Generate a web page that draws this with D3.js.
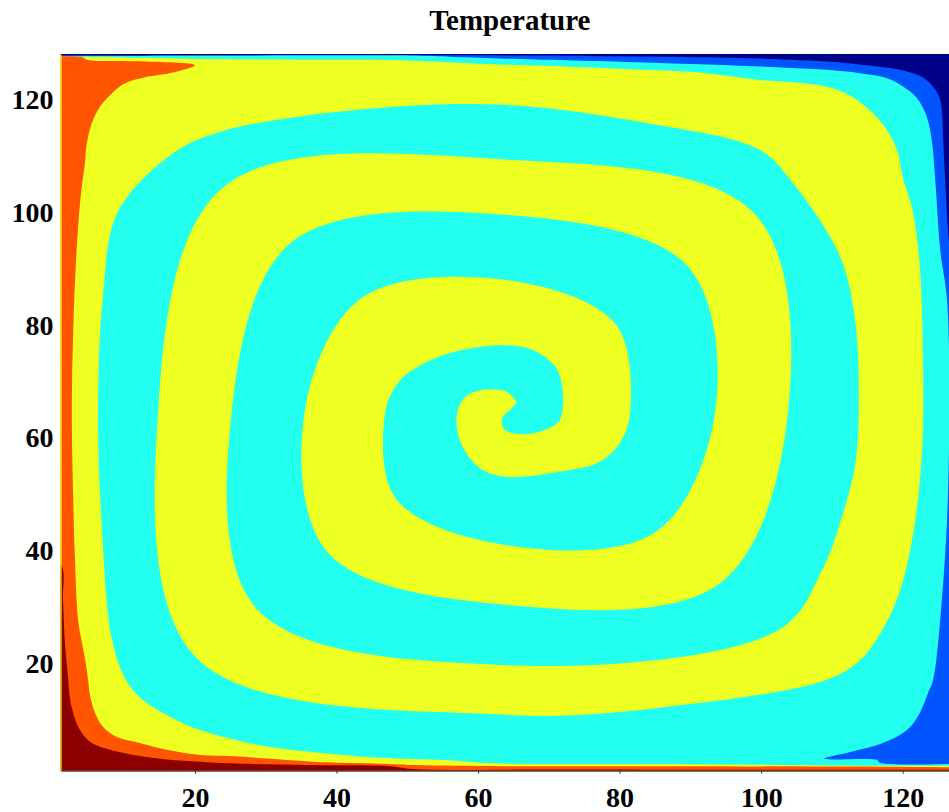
<!DOCTYPE html>
<html>
<head>
<meta charset="utf-8">
<script src="https://cdn.jsdelivr.net/npm/d3@7"></script>
<style>
  html, body { margin: 0; padding: 0; background: #ffffff; }
  svg { display: block; }
</style>
</head>
<body>
<svg id="chart" width="949" height="812"></svg>
<script>
// ---------------- data ----------------
const title = "Temperature";
const xDomain = [1, 128];
const yDomain = [1, 128];
const xTicks = [20, 40, 60, 80, 100, 120];
const yTicks = [20, 40, 60, 80, 100, 120];

// contour levels, hottest to coldest
const levels = ["T6", "T5", "T4", "T3", "T2", "T1"];

// outer edge of the T4 spiral arm, from its tip in the centre outward
const yellowOuter = [
  [65.5, 66.3], [64.9, 67.2], [64.1, 68.1], [60.7, 68.5], [58.2, 67.2], [57.0, 64.0],
  [57.7, 58.7], [60.3, 54.6], [63.8, 53.1], [72.5, 54.2], [77.0, 55.6], [79.9, 58.8],
  [81.5, 64.6], [79.4, 80.2], [63.8, 88.0], [43.6, 84.8], [35.5, 64.6], [38.8, 39.6],
  [63.8, 30.4], [94.2, 34.2], [103.8, 64.6], [99.0, 99.8], [63.8, 109.3], [24.0, 104.4],
  [14.8, 64.6], [20.2, 21.0], [63.8, 10.9], [90.0, 12.8], [109.5, 17.2], [114.0, 20.6],
  [117.2, 26.1], [119.6, 32.8], [121.5, 43.1], [122.7, 56.8], [122.9, 70.2], [122.4, 90.6],
  [121.3, 100.9], [120.1, 105.7], [119.2, 111.0], [117.8, 114.5], [115.8, 117.5], [112.9, 120.4],
  [109.3, 122.2], [104.5, 123.0], [99.8, 123.4], [91.3, 124.7], [81.9, 125.3], [74.0, 125.7],
  [63.8, 126.1], [49.0, 126.9], [34.8, 127.0], [22.5, 127.1], [10.0, 127.4], [1.0, 127.5]
];
// inner edge of the T4 spiral arm, from its tip in the centre outward
const yellowInner = [
  [65.5, 66.3], [64.5, 64.9], [63.5, 63.7], [63.4, 62.3], [63.8, 61.4], [64.9, 60.8],
  [67.8, 60.8], [71.2, 62.6], [72.0, 65.5], [71.2, 72.0], [67.8, 75.5], [63.1, 76.4],
  [56.0, 75.0], [51.4, 72.5], [49.0, 70.2], [46.9, 64.6], [48.4, 49.2], [63.8, 41.0],
  [85.1, 43.3], [93.5, 64.6], [89.6, 90.4], [63.8, 99.5], [33.7, 94.7], [25.2, 64.6],
  [28.8, 29.6], [63.8, 19.7], [102.6, 26.0], [108.6, 36.5], [111.2, 45.1], [113.3, 55.3],
  [113.8, 65.5], [113.3, 80.5], [111.2, 92.0], [104.5, 105.1], [99.8, 111.0], [85.0, 115.5],
  [63.8, 119.0], [42.0, 118.0], [23.5, 114.2], [17.0, 110.5], [9.1, 100.0], [7.0, 85.0],
  [6.3, 64.6], [6.8, 45.0], [8.3, 24.1], [10.3, 17.0], [12.7, 13.5], [17.4, 10.0],
  [20.7, 8.2], [29.2, 5.5], [39.1, 4.0], [47.6, 3.2], [55.1, 2.9], [62.7, 2.3],
  [86.1, 2.2], [95.6, 2.1], [110.0, 1.9], [129.0, 1.85]
];
// T5 / T4 boundary (left strip, top-left wedge, bottom strip)
const orangeEdge = [
  [-3, 127.45], [4.0, 127.45], [4.7, 127.0], [12.2, 126.7], [20.0, 126.0], [16.9, 124.7],
  [12.7, 123.8], [9.9, 122.7], [8.0, 120.7], [6.6, 118.7], [5.6, 116.3], [4.9, 113.4],
  [4.6, 111.0], [4.5, 109.2], [3.8, 102.1], [3.2, 91.5], [2.8, 79.1], [2.6, 64.6],
  [2.8, 49.0], [3.05, 38.3], [3.5, 27.7], [4.5, 20.6], [4.9, 17.1], [5.2, 14.1],
  [5.9, 11.2], [7.0, 8.8], [8.9, 7.0], [12.2, 5.9], [16.0, 4.7], [20.7, 3.8],
  [25.0, 3.6], [29.6, 3.2], [36.7, 2.6], [47.6, 2.2], [51.4, 2.0], [63.5, 1.8],
  [86.1, 1.8], [116.8, 1.7], [129.0, 1.6]
];
// T6 / T5 boundary (bottom-left corner)
const darkRedEdge = [
  [-3, 37.5], [1.0, 37.5], [1.35, 31.3], [1.6, 24.2], [1.9, 19.7], [2.1, 17.1],
  [2.3, 14.1], [2.8, 11.2], [3.75, 8.2], [5.2, 6.1], [8.0, 4.7], [11.3, 3.8],
  [16.0, 3.0], [20.7, 2.6], [25.0, 2.3], [36.7, 2.0], [47.6, 1.8], [50.8, 1.3],
  [70.0, 1.2], [129.0, 1.15]
];
// T3 / T2 boundary (top strip, right strip, bottom-right wedge)
const blueEdge = [
  [48.0, 127.9], [56.0, 127.5], [63.1, 127.2], [81.0, 126.6], [91.3, 126.2], [99.8, 125.8],
  [104.5, 125.5], [109.3, 125.2], [114.0, 124.6], [117.8, 123.7], [120.1, 122.2], [122.0, 120.2],
  [123.4, 116.9], [124.1, 112.8], [124.6, 105.7], [125.3, 93.3], [126.3, 83.9], [126.4, 49.9],
  [125.3, 27.7], [124.3, 17.1], [123.6, 14.8], [122.4, 11.2], [120.6, 8.2], [117.2, 5.9],
  [112.6, 4.3], [108.9, 3.1], [116.4, 2.9], [116.8, 2.4], [129.0, 2.3]
];
// T2 / T1 boundary (top line, top-right corner)
const navyEdge = [
  [-3, 127.7], [63.1, 127.75], [78.2, 127.6], [99.4, 127.2], [110.2, 126.6], [115.0, 126.0],
  [119.6, 125.2], [122.9, 123.8], [124.6, 121.7], [125.3, 119.9], [125.6, 116.9], [125.7, 113.4],
  [126.0, 105.7], [126.4, 96.8], [127.4, 84.4], [128.4, 77.3], [131, 70]
];

// ---------------- styles ----------------
const levelColor = {
  T6: "#8c0000", T5: "#ff5500", T4: "#eeff22",
  T3: "#22ffee", T2: "#0055ff", T1: "#000088"
};
const fontFamily = "'Liberation Serif', 'Times New Roman', Times, serif";

// ---------------- drawing ----------------
const svg = d3.select("#chart");
const x = d3.scaleLinear().domain(xDomain).range([60.5, 959.3]);
const y = d3.scaleLinear().domain(yDomain).range([770.7, 54]);

const lo = xDomain[0] - 4, hi = xDomain[1] + 3;

svg.append("defs").append("clipPath").attr("id", "plotClip")
  .append("rect")
  .attr("x", x(xDomain[0])).attr("y", y(yDomain[1]))
  .attr("width", x(xDomain[1]) - x(xDomain[0]))
  .attr("height", y(yDomain[0]) - y(yDomain[1]));

const lineC = d3.line().x(d => x(d[0])).y(d => y(d[1])).curve(d3.curveCatmullRom.alpha(0.5));
const lineL = d3.line().x(d => x(d[0])).y(d => y(d[1]));
function joinPath(parts) {
  return parts.map((p, i) => {
    const s = (p[1] ? lineC : lineL)(p[0]);
    return i ? s.replace(/^M/, "L") : s;
  }).join("") + "Z";
}

const plot = svg.append("g").attr("clip-path", "url(#plotClip)");

// base level T3 fills the field
plot.append("rect")
  .attr("x", x(xDomain[0])).attr("y", y(yDomain[1]))
  .attr("width", x(xDomain[1]) - x(xDomain[0]))
  .attr("height", y(yDomain[0]) - y(yDomain[1]))
  .attr("fill", levelColor.T3);

// T4 spiral arm
const lastOuter = yellowOuter[yellowOuter.length - 1];
const lastInner = yellowInner[yellowInner.length - 1];
plot.append("path")
  .attr("d", joinPath([
    [yellowOuter, true],
    [[lastOuter, [lo, lastOuter[1]], [lo, lo], [hi, lo], [hi, lastInner[1]]], false],
    [yellowInner.slice().reverse(), true]
  ]))
  .attr("fill", levelColor.T4);

// T5 region
const oLast = orangeEdge[orangeEdge.length - 1];
plot.append("path")
  .attr("d", joinPath([
    [orangeEdge, true],
    [[oLast, [hi, oLast[1]], [hi, lo], [lo, lo]], false]
  ]))
  .attr("fill", levelColor.T5);

// T6 region
const rLast = darkRedEdge[darkRedEdge.length - 1];
plot.append("path")
  .attr("d", joinPath([
    [darkRedEdge, true],
    [[rLast, [hi, rLast[1]], [hi, lo], [lo, lo]], false]
  ]))
  .attr("fill", levelColor.T6);

// T2 region
const bLast = blueEdge[blueEdge.length - 1];
plot.append("path")
  .attr("d", joinPath([
    [blueEdge, true],
    [[bLast, [hi, bLast[1]], [hi, hi], [blueEdge[0][0], hi]], false]
  ]))
  .attr("fill", levelColor.T2);

// T1 region
const nLast = navyEdge[navyEdge.length - 1];
plot.append("path")
  .attr("d", joinPath([
    [navyEdge, true],
    [[nLast, [hi, hi], [lo, hi]], false]
  ]))
  .attr("fill", levelColor.T1);

// ---------------- axes ----------------
const xAxis = svg.append("g")
  .attr("transform", `translate(0,${y(yDomain[0])})`)
  .call(d3.axisBottom(x).tickValues(xTicks).tickSize(3).tickSizeOuter(0).tickPadding(13).tickFormat(d3.format("d")));
xAxis.select(".domain").attr("stroke", "#444").attr("stroke-width", 1.2);
xAxis.selectAll(".tick line").attr("stroke", "#333");
xAxis.selectAll("text")
  .attr("font-family", fontFamily).attr("font-size", 28).attr("font-weight", "bold").attr("fill", "#000");

const yAxis = svg.append("g")
  .attr("transform", `translate(${x(xDomain[0])},0)`)
  .call(d3.axisLeft(y).tickValues(yTicks).tickSize(0).tickSizeOuter(0).tickPadding(7).tickFormat(d3.format("d")));
yAxis.select(".domain").attr("stroke", levelColor.T4).attr("stroke-width", 1.2);
yAxis.selectAll("text")
  .attr("font-family", fontFamily).attr("font-size", 28).attr("font-weight", "bold").attr("fill", "#000")
  .attr("dy", "0.33em");

// title
svg.append("text")
  .attr("x", (x(xDomain[0]) + x(xDomain[1])) / 2)
  .attr("y", 29.5)
  .attr("text-anchor", "middle")
  .attr("font-family", fontFamily)
  .attr("font-size", 29)
  .attr("font-weight", "bold")
  .attr("fill", "#000")
  .text(title);
</script>
</body>
</html>
